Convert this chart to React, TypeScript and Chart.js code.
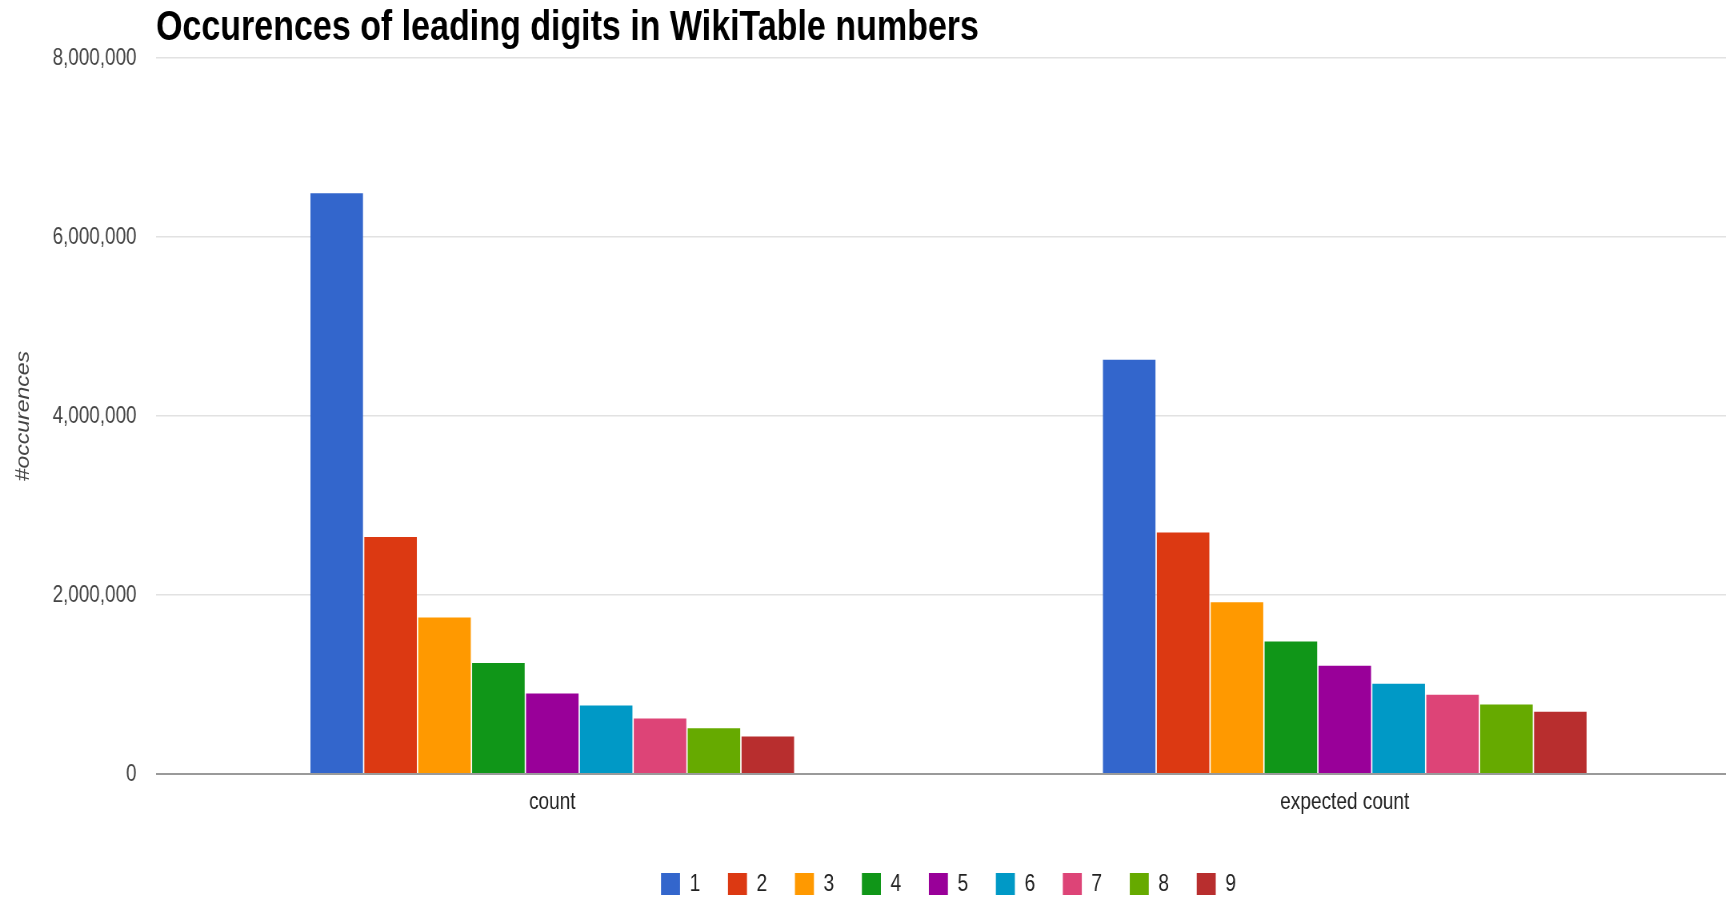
import React, { useEffect, useRef } from "react";
import { Chart, registerables } from "chart.js";

Chart.register(...registerables);

// Leading digit categories and the two groups of bars
const digits = ["1", "2", "3", "4", "5", "6", "7", "8", "9"];
const groups = ["count", "expected count"];

// Observed occurrences per leading digit
const countValues = [6490000, 2650000, 1750000, 1240000, 900000, 765000, 620000, 510000, 420000];
// Expected occurrences per leading digit
const expectedValues = [4630000, 2700000, 1920000, 1480000, 1210000, 1010000, 886000, 778000, 695000];

const digitColors = [
  "#3366CC", "#DC3912", "#FF9900", "#109618", "#990099",
  "#0099C6", "#DD4477", "#66AA00", "#B82E2E",
];

const yTicks = [0, 2000000, 4000000, 6000000, 8000000];

const FONT = "'Liberation Sans', Arial, sans-serif";

// The canvas backing store is wider than its CSS box, which gives the
// condensed lettering; horizontal sizes below are in backing-store units.
const CSS_W = 1741;
const CSS_H = 906;
const SX = 1.25;
const PX_W = Math.round(CSS_W * SX);

export default function App() {
  const canvasRef = useRef<HTMLCanvasElement | null>(null);

  useEffect(() => {
    if (!canvasRef.current) return;
    const chart = new Chart(canvasRef.current, {
      type: "bar",
      data: {
        labels: groups,
        datasets: digits.map((d, i) => ({
          label: d,
          data: [countValues[i], expectedValues[i]],
          backgroundColor: digitColors[i],
          borderWidth: 0,
          categoryPercentage: 0.612,
          barPercentage: 0.975,
        })),
      },
      options: {
        responsive: false,
        animation: false,
        devicePixelRatio: 1,
        layout: { padding: 0 },
        plugins: {
          tooltip: { enabled: false },
          title: {
            display: true,
            text: "Occurences of leading digits in WikiTable numbers",
            align: "start",
            fullSize: false,
            color: "#000",
            font: { family: FONT, size: 42.5, weight: "bold", lineHeight: 1.2 },
            padding: { top: 3, bottom: 4.2 },
          },
          legend: {
            position: "bottom",
            align: "center",
            fullSize: false,
            labels: {
              boxWidth: 19 * SX,
              boxHeight: 22,
              padding: 34.6,
              color: "#222",
              font: { family: FONT, size: 24 },
            },
          },
        },
        scales: {
          x: {
            grid: { display: false },
            border: { display: false },
            ticks: {
              color: "#222",
              padding: 6,
              font: { family: FONT, size: 23.8 },
            },
            afterFit: (axis: any) => {
              axis.height = 63.4;
            },
          },
          y: {
            min: 0,
            max: 8000000,
            afterBuildTicks: (axis: any) => {
              axis.ticks = yTicks.map((v) => ({ value: v }));
            },
            border: { display: false },
            grid: {
              drawTicks: false,
              color: (ctx: any) => (ctx.tick && ctx.tick.value === 0 ? "#9a9a9a" : "#e2e2e2"),
              lineWidth: (ctx: any) => (ctx.tick && ctx.tick.value === 0 ? 2 : 1.5),
            },
            ticks: {
              padding: 19.5 * SX,
              color: "#444",
              font: { family: FONT, size: 23.6 },
              callback: (v: any) => Number(v).toLocaleString("en-US"),
            },
            title: {
              display: true,
              text: "#occurences",
              color: "#444",
              font: { family: FONT, size: 23, style: "italic", lineHeight: 1.2 },
              padding: { top: 16, bottom: 0 },
            },
            afterFit: (axis: any) => {
              axis.width = 156 * SX;
            },
          },
        },
      },
    });
    return () => chart.destroy();
  }, []);

  return (
    <div style={{ position: "relative", width: CSS_W, height: CSS_H }}>
      <style>{`html, body { margin: 0; overflow: hidden; background: #fff; }`}</style>
      <canvas
        ref={canvasRef}
        width={PX_W}
        height={CSS_H}
        style={{ display: "block", width: `${CSS_W}px`, height: `${CSS_H}px` }}
      />
    </div>
  );
}
